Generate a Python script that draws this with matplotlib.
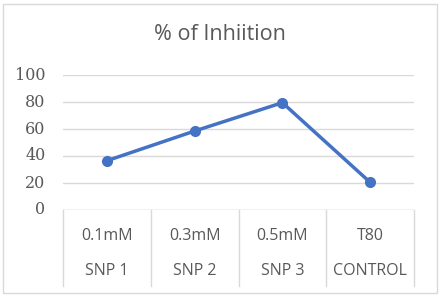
import matplotlib.pyplot as plt
import matplotlib.transforms as mtransforms
from matplotlib.patches import Rectangle

doses = ['0.1mM', '0.3mM', '0.5mM', 'T80']
groups = ['SNP 1', 'SNP 2', 'SNP 3', 'CONTROL']
inhibition = [36.5, 58.5, 79.5, 20.5]
yticks = [0, 20, 40, 60, 80, 100]

fig = plt.figure(figsize=(4.4, 2.97), dpi=100)
fig.patches.append(Rectangle((3 / 440, 4 / 297), 434 / 440, 289 / 297, transform=fig.transFigure,
                             fill=False, edgecolor='#d9d9d9', linewidth=1))
ax = fig.add_axes([63 / 440, 1 - 210 / 297, 351 / 440, 135 / 297])

x = list(range(len(doses)))
ax.plot(x, inhibition, color='#4472C4', linewidth=2.5, marker='o', markersize=7, zorder=3)

ax.set_xlim(-0.5, len(doses) - 0.5)
ax.set_ylim(0, 100)
ax.set_yticks(yticks)
ax.set_yticklabels([])
ax.set_xticks([])
ax.tick_params(axis='y', length=0)
ax.grid(axis='y', color='#d9d9d9', linewidth=1)
for s in ax.spines.values():
    s.set_visible(False)
ax.axhline(0, color='#d9d9d9', linewidth=1)

# y tick labels drawn as text so the serif font sticks
ytrans = mtransforms.blended_transform_factory(ax.transAxes, ax.transData)
for v in yticks:
    ax.text(-0.05, v, str(v), transform=ytrans, ha='right', va='center',
            fontsize=11.5, color='#595959', family='DejaVu Serif')

trans = mtransforms.blended_transform_factory(ax.transData, ax.transAxes)
for b in [i - 0.5 for i in range(len(doses) + 1)]:
    ax.plot([b, b], [0, -0.56], color='#d9d9d9', linewidth=1, transform=trans, clip_on=False)
for i in x:
    ax.text(i, -0.19, doses[i], transform=trans, ha='center', va='center',
            fontsize=11.5, color='#595959', family='Open Sans')
    ax.text(i, -0.45, groups[i], transform=trans, ha='center', va='center',
            fontsize=11.5, color='#595959', family='Open Sans')

fig.text(0.5, 1 - 35 / 297, '% of Inhiition', ha='center', va='center',
         fontsize=15.5, color='#595959', family='Open Sans')

fig.savefig('out.png', dpi=100)
